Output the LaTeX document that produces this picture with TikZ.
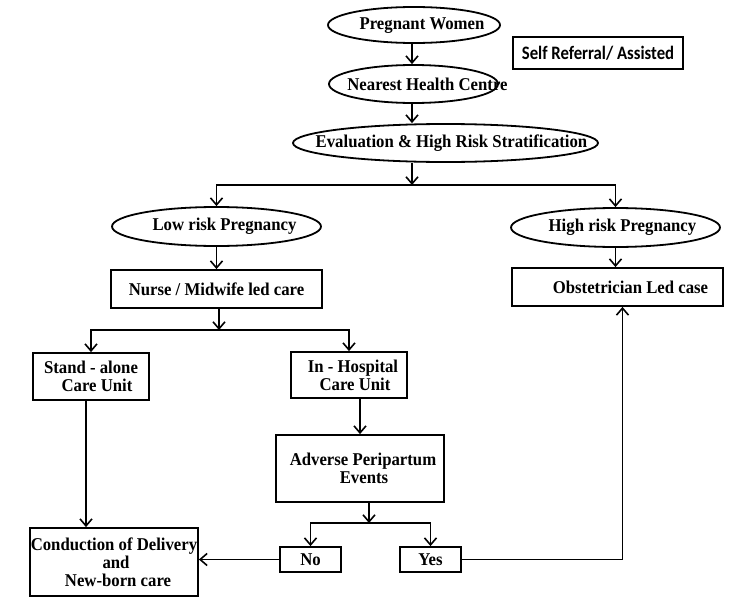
\documentclass[tikz,border=0pt]{standalone}
\usepackage{fontspec}
\setmainfont{Liberation Serif}[FakeStretch=0.93]
\newfontfamily\calfont{Carlito}[FakeStretch=0.88]
\usetikzlibrary{arrows.meta,shapes.geometric}
\tikzset{
	oval/.style={draw, ellipse, line width=1.8pt, inner sep=0pt},
	box/.style={draw, rectangle, line width=1.8pt, inner sep=0pt, align=center, font=\bfseries\fontsize{18}{18}\selectfont},
	lbl/.style={font=\bfseries\fontsize{18}{18}\selectfont, inner sep=0pt},
	flow/.style={line width=1.6pt, -{Straight Barb[length=7pt,width=12pt]}}
}

\begin{document}
\begin{tikzpicture}[x=1pt, y=-1pt]
			%%%%% START %%%%%
			\useasboundingbox[fill=white] (0, 0) rectangle (750, 597);
			
			\node[oval, minimum width=172, minimum height=36, label={[lbl, xshift=8, yshift=-1]center:Pregnant Women}] (pw) at (414, 25) {};
			\node[box, font=\calfont\bfseries\fontsize{19}{18}\selectfont, minimum width=170, minimum height=32] (self) at (598, 53) {Self Referral/ Assisted};
			\node[oval, minimum width=169, minimum height=38, label={[lbl, xshift=14]center:Nearest Health Centre}] (nhc) at (413.5, 84) {};
			\node[oval, minimum width=305, minimum height=38, label={[lbl, xshift=6]center:Evaluation \& High Risk Stratification}] (eval) at (445.5, 143) {};
			
			\node[oval, minimum width=209, minimum height=39, label={[lbl, xshift=8]center:Low risk Pregnancy}] (low) at (216.5, 226.5) {};
			\node[oval, minimum width=209, minimum height=39, label={[lbl, xshift=7]center:High risk Pregnancy}] (high) at (615.5, 227.5) {};
			
			\node[box, minimum width=211, minimum height=38] (nurse) at (216.5, 289) {Nurse / Midwife led care};
			\node[box, minimum width=211, minimum height=38] (obst) at (617.5, 287) {\hspace{26pt}Obstetrician Led case};
			
			\node[box, minimum width=116, minimum height=47] (stand) at (91, 376.5) {Stand - alone\\\hspace{12pt}Care Unit};
			\node[box, minimum width=116, minimum height=46] (inh) at (349, 375) {\hspace{8pt}In - Hospital\\\hspace{12pt}Care Unit};
			\node[box, minimum width=168, minimum height=67] (adv) at (360, 468.5) {\hspace{6pt}Adverse Peripartum\\\hspace{8pt}Events};
			
			\node[box, minimum width=61, minimum height=25] (no) at (310.5, 559.5) {No};
			\node[box, minimum width=61, minimum height=25] (yes) at (430.5, 559.5) {Yes};
			\node[box, minimum width=168, minimum height=68] (cond) at (114, 562) {Conduction of Delivery\\\hspace{4pt}and\\\hspace{8pt}New-born care};
			
			\coordinate (sp1) at (412, 185);
			\coordinate (sp2) at (219, 330);
			\coordinate (sp3) at (369, 523);
			
			\draw[flow] (pw.south -| sp1) -- (sp1 |- nhc.north);
			\draw[flow] (nhc.south -| sp1) -- (sp1 |- eval.north);
			\draw[flow] (eval.south -| sp1) -- (sp1);
			\draw[flow] (sp1) -| (low.north);
			\draw[flow] (sp1) -| (high.north);
			
			\draw[flow] (low.south) -- (nurse.north);
			\draw[flow] (high.south) -- (high.south |- obst.north);
			
			\draw[flow] (nurse.south -| sp2) -- (sp2);
			\draw[flow] (sp2) -| (stand.north);
			\draw[flow] (sp2) -| (inh.north);
			
			\draw[flow] (inh.south -| adv.north) -- (adv.north);
			\draw[flow] (adv.south -| sp3) -- (sp3);
			\draw[flow] (sp3) -| (no.north);
			\draw[flow] (sp3) -| (yes.north);
			
			\draw[flow] ([xshift=-5]stand.south) -- ([xshift=-5]stand.south |- cond.north);
			\draw[flow] (no.west) -- (no.west -| cond.east);
			\draw[flow] (yes.east) -| ([xshift=5]obst.south);
			
			%%%%% END %%%%%
\end{tikzpicture}
\end{document}
